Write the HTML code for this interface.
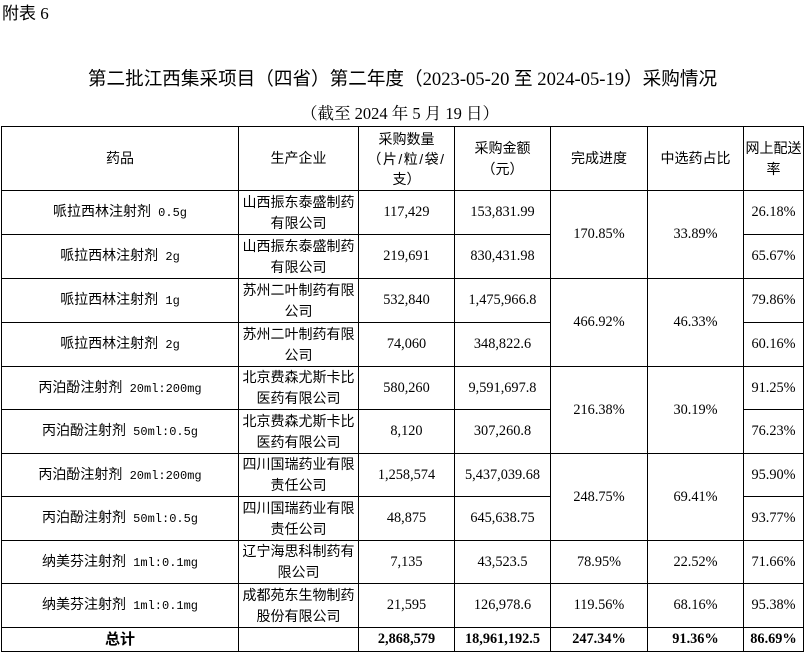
<!DOCTYPE html>
<html><head><meta charset="utf-8">
<style>
html,body{margin:0;padding:0;background:#fff;}
body{width:805px;height:655px;position:relative;overflow:hidden;color:#000;}
.h{position:absolute;height:1px;background:#000;}
.v{position:absolute;width:1px;background:#000;top:126px;height:526px;}
.c{position:absolute;display:flex;align-items:center;justify-content:center;text-align:center;font-family:"Liberation Sans","Noto Sans CJK SC",sans-serif;font-size:14px;line-height:21px;white-space:nowrap;}
.n{font-family:"Liberation Serif","Noto Serif CJK SC",serif;font-size:14.3px;}
.b{font-weight:bold;}
.m{font-family:"Liberation Mono",monospace;font-size:12px;}
.t{position:absolute;white-space:nowrap;}
</style></head><body>

<div class="t" style="left:2px;top:2px;font-family:'Liberation Serif','Noto Sans CJK SC',sans-serif;font-size:17px;line-height:20px;"><span style="font-family:'Noto Sans CJK SC',sans-serif;">附表</span> 6</div>

<div class="t" style="left:0;width:805px;text-align:center;top:66px;font-family:'Liberation Serif','Noto Sans CJK SC',sans-serif;font-size:18.6px;line-height:24px;"><span style="font-family:'Noto Sans CJK SC',sans-serif;">第二批江西集采项目（四省）第二年度（</span>2023-05-20 <span style="font-family:'Noto Sans CJK SC',sans-serif;">至</span> 2024-05-19<span style="font-family:'Noto Sans CJK SC',sans-serif;">）采购情况</span></div>

<div class="t" style="left:301px;top:102px;font-family:'Liberation Serif','Noto Serif CJK SC',serif;font-size:16.5px;line-height:24px;">（截至 2024 年 5 月 19 日）</div>

<!-- horizontal lines -->
<div class="h" style="left:1px;width:803px;top:126px"></div>
<div class="h" style="left:1px;width:803px;top:190px"></div>
<div class="h" style="left:1px;width:549px;top:234px"></div><div class="h" style="left:743px;width:61px;top:234px"></div>
<div class="h" style="left:1px;width:803px;top:278px"></div>
<div class="h" style="left:1px;width:549px;top:322px"></div><div class="h" style="left:743px;width:61px;top:322px"></div>
<div class="h" style="left:1px;width:803px;top:366px"></div>
<div class="h" style="left:1px;width:549px;top:409px"></div><div class="h" style="left:743px;width:61px;top:409px"></div>
<div class="h" style="left:1px;width:803px;top:453px"></div>
<div class="h" style="left:1px;width:549px;top:496px"></div><div class="h" style="left:743px;width:61px;top:496px"></div>
<div class="h" style="left:1px;width:803px;top:540px"></div>
<div class="h" style="left:1px;width:803px;top:583px"></div>
<div class="h" style="left:1px;width:803px;top:627px"></div>
<div class="h" style="left:1px;width:803px;top:651px"></div>

<!-- vertical lines -->
<div class="v" style="left:1px"></div>
<div class="v" style="left:238px"></div>
<div class="v" style="left:358px"></div>
<div class="v" style="left:454px"></div>
<div class="v" style="left:550px"></div>
<div class="v" style="left:647px"></div>
<div class="v" style="left:743px"></div>
<div class="v" style="left:803px"></div>

<!-- header -->
<div class="c" style="left:2px;width:236px;top:127px;height:63px">药品</div>
<div class="c" style="left:239px;width:119px;top:127px;height:63px">生产企业</div>
<div class="c" style="left:359px;width:95px;top:127px;height:63px;line-height:20px"><div>采购数量<br><span style="letter-spacing:1.5px">（片/粒/袋/</span><br>支）</div></div>
<div class="c" style="left:455px;width:95px;top:127px;height:63px"><div>采购金额<br>（元）</div></div>
<div class="c" style="left:551px;width:96px;top:127px;height:63px">完成进度</div>
<div class="c" style="left:648px;width:95px;top:127px;height:63px">中选药占比</div>
<div class="c" style="left:744px;width:59px;top:127px;height:63px"><div>网上配送<br>率</div></div>

<!-- row 1 -->
<div class="c" style="left:2px;width:236px;top:191px;height:43px"><div>哌拉西林注射剂<span class="m">&nbsp;0.5g</span></div></div>
<div class="c" style="left:239px;width:119px;top:191px;height:43px"><div>山西振东泰盛制药<br>有限公司</div></div>
<div class="c n" style="left:359px;width:95px;top:191px;height:43px">117,429</div>
<div class="c n" style="left:455px;width:95px;top:191px;height:43px">153,831.99</div>
<div class="c n" style="left:744px;width:59px;top:191px;height:43px">26.18%</div>
<!-- row 2 -->
<div class="c" style="left:2px;width:236px;top:235px;height:43px"><div>哌拉西林注射剂<span class="m">&nbsp;2g</span></div></div>
<div class="c" style="left:239px;width:119px;top:235px;height:43px"><div>山西振东泰盛制药<br>有限公司</div></div>
<div class="c n" style="left:359px;width:95px;top:235px;height:43px">219,691</div>
<div class="c n" style="left:455px;width:95px;top:235px;height:43px">830,431.98</div>
<div class="c n" style="left:744px;width:59px;top:235px;height:43px">65.67%</div>
<div class="c n" style="left:551px;width:96px;top:191px;height:87px">170.85%</div>
<div class="c n" style="left:648px;width:95px;top:191px;height:87px">33.89%</div>

<!-- row 3 -->
<div class="c" style="left:2px;width:236px;top:279px;height:43px"><div>哌拉西林注射剂<span class="m">&nbsp;1g</span></div></div>
<div class="c" style="left:239px;width:119px;top:279px;height:43px"><div>苏州二叶制药有限<br>公司</div></div>
<div class="c n" style="left:359px;width:95px;top:279px;height:43px">532,840</div>
<div class="c n" style="left:455px;width:95px;top:279px;height:43px">1,475,966.8</div>
<div class="c n" style="left:744px;width:59px;top:279px;height:43px">79.86%</div>
<!-- row 4 -->
<div class="c" style="left:2px;width:236px;top:323px;height:43px"><div>哌拉西林注射剂<span class="m">&nbsp;2g</span></div></div>
<div class="c" style="left:239px;width:119px;top:323px;height:43px"><div>苏州二叶制药有限<br>公司</div></div>
<div class="c n" style="left:359px;width:95px;top:323px;height:43px">74,060</div>
<div class="c n" style="left:455px;width:95px;top:323px;height:43px">348,822.6</div>
<div class="c n" style="left:744px;width:59px;top:323px;height:43px">60.16%</div>
<div class="c n" style="left:551px;width:96px;top:279px;height:87px">466.92%</div>
<div class="c n" style="left:648px;width:95px;top:279px;height:87px">46.33%</div>

<!-- row 5 -->
<div class="c" style="left:2px;width:236px;top:367px;height:42px"><div>丙泊酚注射剂<span class="m">&nbsp;20ml:200mg</span></div></div>
<div class="c" style="left:239px;width:119px;top:367px;height:42px"><div>北京费森尤斯卡比<br>医药有限公司</div></div>
<div class="c n" style="left:359px;width:95px;top:367px;height:42px">580,260</div>
<div class="c n" style="left:455px;width:95px;top:367px;height:42px">9,591,697.8</div>
<div class="c n" style="left:744px;width:59px;top:367px;height:42px">91.25%</div>
<!-- row 6 -->
<div class="c" style="left:2px;width:236px;top:410px;height:43px"><div>丙泊酚注射剂<span class="m">&nbsp;50ml:0.5g</span></div></div>
<div class="c" style="left:239px;width:119px;top:410px;height:43px"><div>北京费森尤斯卡比<br>医药有限公司</div></div>
<div class="c n" style="left:359px;width:95px;top:410px;height:43px">8,120</div>
<div class="c n" style="left:455px;width:95px;top:410px;height:43px">307,260.8</div>
<div class="c n" style="left:744px;width:59px;top:410px;height:43px">76.23%</div>
<div class="c n" style="left:551px;width:96px;top:367px;height:86px">216.38%</div>
<div class="c n" style="left:648px;width:95px;top:367px;height:86px">30.19%</div>

<!-- row 7 -->
<div class="c" style="left:2px;width:236px;top:454px;height:42px"><div>丙泊酚注射剂<span class="m">&nbsp;20ml:200mg</span></div></div>
<div class="c" style="left:239px;width:119px;top:454px;height:42px"><div>四川国瑞药业有限<br>责任公司</div></div>
<div class="c n" style="left:359px;width:95px;top:454px;height:42px">1,258,574</div>
<div class="c n" style="left:455px;width:95px;top:454px;height:42px">5,437,039.68</div>
<div class="c n" style="left:744px;width:59px;top:454px;height:42px">95.90%</div>
<!-- row 8 -->
<div class="c" style="left:2px;width:236px;top:497px;height:43px"><div>丙泊酚注射剂<span class="m">&nbsp;50ml:0.5g</span></div></div>
<div class="c" style="left:239px;width:119px;top:497px;height:43px"><div>四川国瑞药业有限<br>责任公司</div></div>
<div class="c n" style="left:359px;width:95px;top:497px;height:43px">48,875</div>
<div class="c n" style="left:455px;width:95px;top:497px;height:43px">645,638.75</div>
<div class="c n" style="left:744px;width:59px;top:497px;height:43px">93.77%</div>
<div class="c n" style="left:551px;width:96px;top:454px;height:86px">248.75%</div>
<div class="c n" style="left:648px;width:95px;top:454px;height:86px">69.41%</div>

<!-- row 9 -->
<div class="c" style="left:2px;width:236px;top:541px;height:42px"><div>纳美芬注射剂<span class="m">&nbsp;1ml:0.1mg</span></div></div>
<div class="c" style="left:239px;width:119px;top:541px;height:42px"><div>辽宁海思科制药有<br>限公司</div></div>
<div class="c n" style="left:359px;width:95px;top:541px;height:42px">7,135</div>
<div class="c n" style="left:455px;width:95px;top:541px;height:42px">43,523.5</div>
<div class="c n" style="left:551px;width:96px;top:541px;height:42px">78.95%</div>
<div class="c n" style="left:648px;width:95px;top:541px;height:42px">22.52%</div>
<div class="c n" style="left:744px;width:59px;top:541px;height:42px">71.66%</div>

<!-- row 10 -->
<div class="c" style="left:2px;width:236px;top:584px;height:43px"><div>纳美芬注射剂<span class="m">&nbsp;1ml:0.1mg</span></div></div>
<div class="c" style="left:239px;width:119px;top:584px;height:43px"><div>成都苑东生物制药<br>股份有限公司</div></div>
<div class="c n" style="left:359px;width:95px;top:584px;height:43px">21,595</div>
<div class="c n" style="left:455px;width:95px;top:584px;height:43px">126,978.6</div>
<div class="c n" style="left:551px;width:96px;top:584px;height:43px">119.56%</div>
<div class="c n" style="left:648px;width:95px;top:584px;height:43px">68.16%</div>
<div class="c n" style="left:744px;width:59px;top:584px;height:43px">95.38%</div>

<!-- total -->
<div class="c b" style="left:2px;width:236px;top:628px;height:23px;font-size:15px">总计</div>
<div class="c n b" style="left:359px;width:95px;top:628px;height:23px">2,868,579</div>
<div class="c n b" style="left:455px;width:95px;top:628px;height:23px">18,961,192.5</div>
<div class="c n b" style="left:551px;width:96px;top:628px;height:23px">247.34%</div>
<div class="c n b" style="left:648px;width:95px;top:628px;height:23px">91.36%</div>
<div class="c n b" style="left:744px;width:59px;top:628px;height:23px">86.69%</div>

</body></html>
